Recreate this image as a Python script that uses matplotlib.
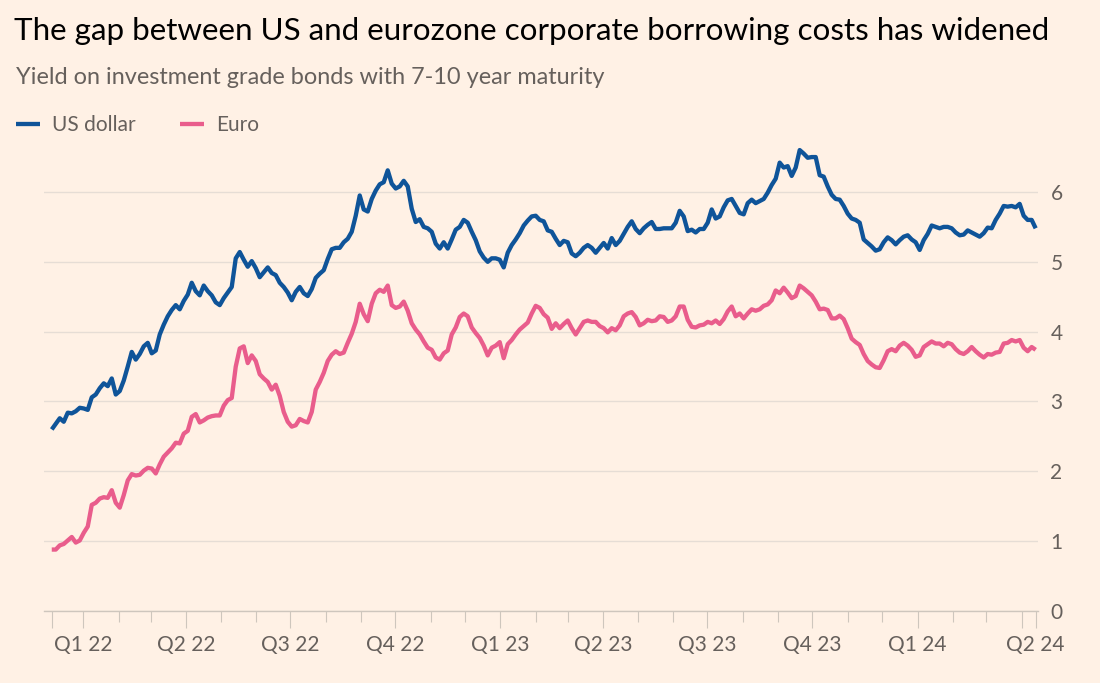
import matplotlib
matplotlib.use("Agg")
import matplotlib.pyplot as plt
import pandas as pd

# ---------------- data ----------------
start_date = "2021-12-04 08:00"
step = "84h"  # twice-weekly samples

us_dollar = [
    2.60, 2.68, 2.76, 2.71, 2.84, 2.83, 2.86, 2.91, 2.90, 2.88,
    3.06, 3.10, 3.19, 3.26, 3.22, 3.33, 3.10, 3.15, 3.30, 3.50,
    3.71, 3.60, 3.68, 3.79, 3.84, 3.69, 3.73, 3.96, 4.10, 4.22,
    4.31, 4.38, 4.32, 4.44, 4.53, 4.70, 4.58, 4.52, 4.66, 4.58,
    4.52, 4.42, 4.38, 4.48, 4.56, 4.64, 5.05, 5.14, 5.03, 4.93,
    5.01, 4.91, 4.78, 4.85, 4.92, 4.84, 4.81, 4.70, 4.64, 4.56,
    4.45, 4.57, 4.64, 4.55, 4.51, 4.61, 4.77, 4.83, 4.88, 5.04,
    5.18, 5.20, 5.20, 5.28, 5.33, 5.43, 5.66, 5.95, 5.75, 5.72,
    5.90, 6.02, 6.11, 6.14, 6.31, 6.12, 6.05, 6.08, 6.16, 6.08,
    5.76, 5.57, 5.61, 5.50, 5.48, 5.43, 5.26, 5.19, 5.28, 5.19,
    5.32, 5.46, 5.50, 5.60, 5.56, 5.43, 5.31, 5.15, 5.06, 5.00,
    5.05, 5.05, 5.03, 4.92, 5.13, 5.24, 5.32, 5.41, 5.52, 5.59,
    5.65, 5.66, 5.60, 5.58, 5.45, 5.43, 5.33, 5.24, 5.30, 5.28,
    5.12, 5.08, 5.13, 5.20, 5.24, 5.20, 5.13, 5.20, 5.27, 5.19,
    5.34, 5.24, 5.30, 5.40, 5.50, 5.58, 5.47, 5.41, 5.48, 5.53,
    5.57, 5.47, 5.47, 5.48, 5.48, 5.48, 5.56, 5.73, 5.65, 5.44,
    5.46, 5.42, 5.47, 5.47, 5.56, 5.75, 5.62, 5.65, 5.78, 5.88,
    5.90, 5.80, 5.70, 5.68, 5.84, 5.89, 5.84, 5.87, 5.90, 5.99,
    6.10, 6.19, 6.42, 6.35, 6.37, 6.23, 6.35, 6.60, 6.55, 6.49,
    6.50, 6.50, 6.24, 6.22, 6.08, 5.96, 5.90, 5.89, 5.80, 5.69,
    5.62, 5.60, 5.56, 5.32, 5.27, 5.22, 5.16, 5.18, 5.28, 5.35,
    5.31, 5.25, 5.31, 5.36, 5.38, 5.32, 5.28, 5.17, 5.31, 5.40,
    5.52, 5.50, 5.48, 5.50, 5.50, 5.48, 5.42, 5.38, 5.39, 5.45,
    5.42, 5.39, 5.36, 5.41, 5.49, 5.48, 5.60, 5.69, 5.80, 5.79,
    5.80, 5.78, 5.83, 5.66, 5.60, 5.60, 5.48,
]

euro = [
    0.88, 0.88, 0.94, 0.96, 1.01, 1.06, 0.98, 1.01, 1.12, 1.21,
    1.52, 1.55, 1.61, 1.63, 1.62, 1.73, 1.55, 1.48, 1.66, 1.87,
    1.96, 1.94, 1.95, 2.01, 2.05, 2.04, 1.97, 2.10, 2.21, 2.27,
    2.33, 2.41, 2.40, 2.54, 2.58, 2.78, 2.82, 2.70, 2.73, 2.77,
    2.79, 2.80, 2.80, 2.94, 3.02, 3.05, 3.50, 3.76, 3.79, 3.55,
    3.66, 3.58, 3.39, 3.33, 3.28, 3.17, 3.24, 3.08, 2.85, 2.71,
    2.64, 2.66, 2.75, 2.72, 2.70, 2.85, 3.17, 3.28, 3.41, 3.58,
    3.67, 3.72, 3.68, 3.70, 3.84, 3.97, 4.14, 4.40, 4.25, 4.15,
    4.40, 4.55, 4.60, 4.57, 4.66, 4.38, 4.34, 4.36, 4.43, 4.30,
    4.12, 4.03, 3.96, 3.86, 3.77, 3.74, 3.63, 3.60, 3.69, 3.73,
    3.96, 4.06, 4.21, 4.26, 4.22, 4.06, 3.98, 3.91, 3.80, 3.66,
    3.77, 3.80, 3.85, 3.62, 3.82, 3.88, 3.96, 4.03, 4.08, 4.13,
    4.26, 4.37, 4.34, 4.25, 4.20, 4.04, 4.12, 4.05, 4.11, 4.16,
    4.05, 3.96, 4.05, 4.14, 4.16, 4.14, 4.14, 4.08, 4.05, 3.99,
    4.05, 4.02, 4.09, 4.22, 4.26, 4.28, 4.21, 4.09, 4.12, 4.17,
    4.15, 4.16, 4.22, 4.21, 4.14, 4.16, 4.22, 4.36, 4.36, 4.17,
    4.07, 4.06, 4.09, 4.10, 4.14, 4.12, 4.16, 4.11, 4.18, 4.29,
    4.36, 4.22, 4.26, 4.19, 4.26, 4.32, 4.30, 4.32, 4.37, 4.39,
    4.45, 4.59, 4.55, 4.63, 4.56, 4.48, 4.51, 4.66, 4.62, 4.57,
    4.52, 4.43, 4.32, 4.33, 4.31, 4.19, 4.19, 4.23, 4.18, 4.05,
    3.90, 3.85, 3.81, 3.68, 3.58, 3.53, 3.49, 3.48, 3.59, 3.72,
    3.75, 3.72, 3.80, 3.84, 3.80, 3.74, 3.64, 3.66, 3.78, 3.82,
    3.86, 3.83, 3.83, 3.79, 3.84, 3.82, 3.75, 3.70, 3.68, 3.72,
    3.78, 3.72, 3.67, 3.63, 3.68, 3.67, 3.70, 3.71, 3.83, 3.84,
    3.88, 3.86, 3.88, 3.77, 3.72, 3.78, 3.74,
]

quarter_starts = ["2022-01-01", "2022-04-01", "2022-07-01", "2022-10-01",
                  "2023-01-01", "2023-04-01", "2023-07-01", "2023-10-01",
                  "2024-01-01", "2024-04-01"]
quarter_labels = ["Q1 22", "Q2 22", "Q3 22", "Q4 22", "Q1 23", "Q2 23",
                  "Q3 23", "Q4 23", "Q1 24", ""]
end_label = "Q2 24"
y_ticks = [0, 1, 2, 3, 4, 5, 6]

title = "The gap between US and eurozone corporate borrowing costs has widened"
subtitle = "Yield on investment grade bonds with 7-10 year maturity"

# ---------------- style ----------------
BG = "#FFF1E5"
BLUE = "#0F5499"
PINK = "#E95D8C"
GRID = "#E6DDD5"
AXIS = "#CEC6BD"
TXT = "#66605C"
FONT = ["Lato", "DejaVu Sans"]
plt.rcParams["font.family"] = FONT

dates = pd.date_range(start_date, periods=len(us_dollar), freq=step)

fig = plt.figure(figsize=(11, 6.83), dpi=100, facecolor=BG)
ax = fig.add_axes([0.0403, 0.1054, 0.9033, 0.6902])
ax.set_facecolor(BG)

ax.plot(dates, us_dollar, color=BLUE, lw=3.1, label="US dollar",
        solid_joinstyle="round", solid_capstyle="butt", zorder=3)
ax.plot(dates, euro, color=PINK, lw=3.1, label="Euro",
        solid_joinstyle="round", solid_capstyle="butt", zorder=3)

ax.set_xlim(dates[0] - pd.Timedelta(days=6.5), dates[-1] + pd.Timedelta(days=2))
ax.set_ylim(0, 6.75)

# y axis on the right
ax.yaxis.tick_right()
ax.set_yticks(y_ticks)
ax.set_yticklabels([str(v) for v in y_ticks])
ax.tick_params(axis="y", length=0, pad=9, labelsize=15, labelcolor=TXT)
ax.grid(axis="y", color=GRID, lw=1.0, zorder=0)
ax.grid(axis="x", visible=False)

# x axis ticks
q_dates = pd.to_datetime(quarter_starts)
major = [dates[0]] + list(q_dates) + [dates[-1]]
major_labels = [""] + quarter_labels + [end_label]
ax.set_xticks(major, major_labels)
months = pd.date_range("2022-01-01", "2024-04-01", freq="MS")
minor = [m for m in months if m not in set(q_dates)]
ax.set_xticks(minor, minor=True)
ax.tick_params(axis="x", which="major", length=12, width=0.8, color=AXIS,
               pad=5, labelsize=15, labelcolor=TXT)
ax.tick_params(axis="x", which="minor", length=8, width=0.8, color=AXIS)

for s in ["top", "left", "right"]:
    ax.spines[s].set_visible(False)
ax.spines["bottom"].set_color(AXIS)
ax.spines["bottom"].set_linewidth(1.0)

# titles
fig.text(14 / 1100, 1 - 40 / 683, title, fontsize=22.6, color="#000000",
         ha="left", va="baseline")
fig.text(16 / 1100, 1 - 84 / 683, subtitle, fontsize=16.9, color=TXT,
         ha="left", va="baseline")

# legend
fig.legend(loc="center left", bbox_to_anchor=(16 / 1100, 1 - 125 / 683),
           ncol=2, frameon=False, fontsize=15, labelcolor=TXT,
           handlelength=1.15, handletextpad=0.6, columnspacing=2.1,
           borderpad=0, borderaxespad=0)

fig.savefig("out.png", dpi=100, facecolor=BG)
